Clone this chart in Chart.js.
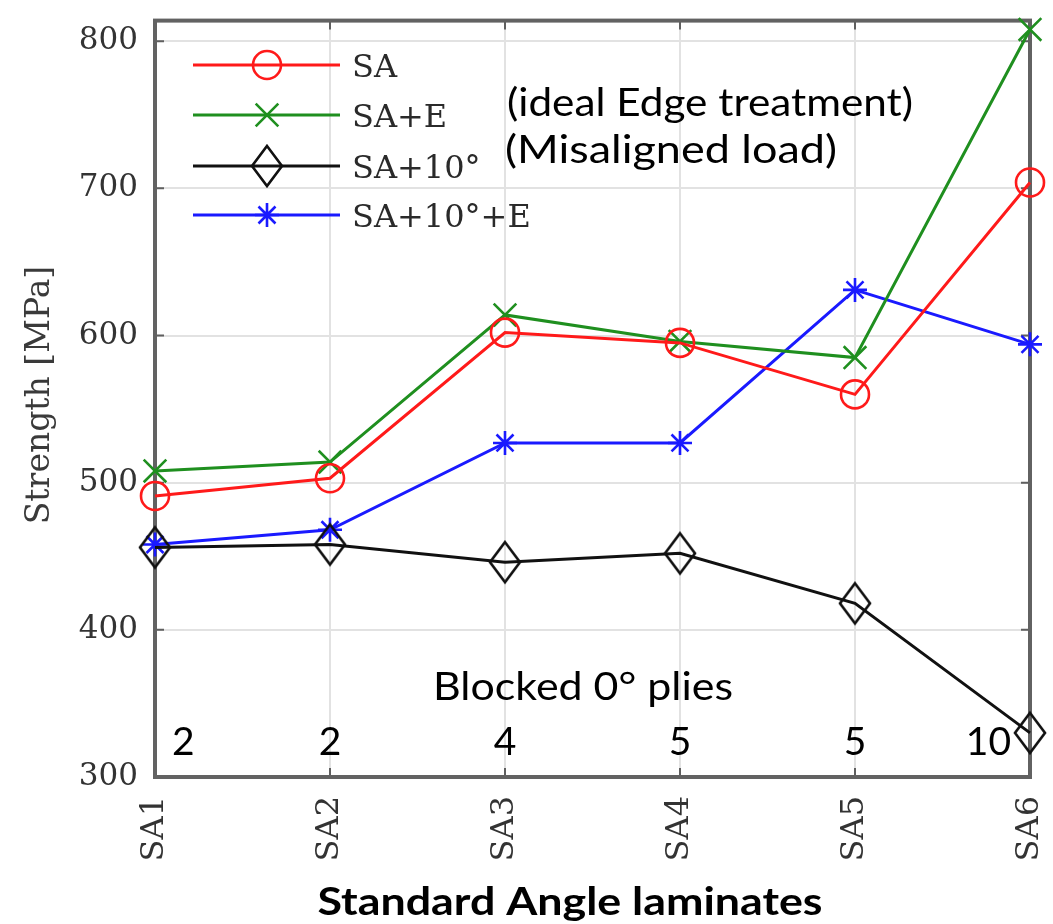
<!DOCTYPE html>
<html><head><meta charset="utf-8">
<script src="https://cdn.jsdelivr.net/npm/chart.js@4.4.1/dist/chart.umd.min.js"></script>
<style>html,body{margin:0;padding:0;background:#fff;} #wrap{width:1053px;height:924px;position:relative;}</style>
</head><body><div id="wrap"><canvas id="c" width="1053" height="924"></canvas></div>
<script>
const categories = ['SA1','SA2','SA3','SA4','SA5','SA6'];
const saValues = [491, 503, 602, 595, 560, 704];
const saEValues = [508, 514, 614, 596, 585, 808];
const sa10Values = [456, 458, 446, 452, 418, 330];
const sa10EValues = [458, 468, 527, 527, 631, 594];
const blockedPlies = ['2','2','4','5','5','10'];
const seriesNames = ['SA','SA+E','SA+10°','SA+10°+E'];
const seriesNotes = ['', '(ideal Edge treatment)', '(Misaligned load)', ''];
const yTicks = [300,400,500,600,700,800];
const xTitle = 'Standard Angle laminates';
const yTitle = 'Strength [MPa]';
const pliesTitle = 'Blocked 0° plies';

const RED = '#ff1a1a', GREEN = '#1f8f1f', BLACK = '#111111', BLUE = '#1a1aff';
const SERIF = '"DejaVu Serif", serif';
const SANS = 'Lato, "Open Sans", sans-serif';
const LW = 3;
const MW = 2.6;

function makeDiamond(w, h, color, lw) {
  const c = document.createElement('canvas');
  c.width = Math.ceil(w + lw * 2 + 2); c.height = Math.ceil(h + lw * 2 + 2);
  const g = c.getContext('2d');
  const cx = c.width / 2, cy = c.height / 2;
  g.strokeStyle = color; g.lineWidth = lw; g.lineJoin = 'miter';
  g.beginPath();
  g.moveTo(cx, cy - h / 2); g.lineTo(cx + w / 2, cy); g.lineTo(cx, cy + h / 2); g.lineTo(cx - w / 2, cy);
  g.closePath(); g.stroke();
  return c;
}
const diamondImg = makeDiamond(30, 40, BLACK, MW);

const styles = [
  {color: RED, pointStyle: 'circle', radius: 14},
  {color: GREEN, pointStyle: 'crossRot', radius: 16},
  {color: BLACK, pointStyle: diamondImg, radius: 18},
  {color: BLUE, pointStyle: 'star', radius: 12}
];
const seriesData = [saValues, saEValues, sa10Values, sa10EValues];

const datasets = seriesData.map((d, i) => ({
  label: seriesNames[i],
  data: d,
  borderColor: styles[i].color,
  backgroundColor: 'rgba(0,0,0,0)',
  borderWidth: LW,
  pointStyle: styles[i].pointStyle,
  pointRadius: styles[i].radius,
  pointHoverRadius: styles[i].radius,
  pointBorderWidth: MW,
  pointBorderColor: styles[i].color,
  pointBackgroundColor: 'rgba(0,0,0,0)',
  tension: 0,
  clip: false
}));

function fitText(ctx, text, x, y, width, font, align) {
  ctx.save();
  ctx.font = font;
  const w = ctx.measureText(text).width;
  const s = width / w;
  ctx.translate(x, y);
  ctx.scale(s, 1);
  ctx.textAlign = align;
  ctx.textBaseline = 'alphabetic';
  ctx.fillText(text, 0, 0);
  ctx.restore();
}

function drawMarker(ctx, st, x, y) {
  if (typeof st.pointStyle !== 'string') {
    ctx.drawImage(st.pointStyle, x - st.pointStyle.width / 2, y - st.pointStyle.height / 2);
    return;
  }
  ctx.save();
  ctx.strokeStyle = st.color; ctx.lineWidth = MW;
  ctx.beginPath();
  const r = st.radius;
  if (st.pointStyle === 'circle') {
    ctx.arc(x, y, r, 0, Math.PI * 2);
  } else if (st.pointStyle === 'crossRot') {
    const o = r * Math.SQRT1_2;
    ctx.moveTo(x - o, y - o); ctx.lineTo(x + o, y + o);
    ctx.moveTo(x - o, y + o); ctx.lineTo(x + o, y - o);
  } else if (st.pointStyle === 'star') {
    const o = r * Math.SQRT1_2;
    ctx.moveTo(x - r, y); ctx.lineTo(x + r, y);
    ctx.moveTo(x, y - r); ctx.lineTo(x, y + r);
    ctx.moveTo(x - o, y - o); ctx.lineTo(x + o, y + o);
    ctx.moveTo(x - o, y + o); ctx.lineTo(x + o, y - o);
  }
  ctx.stroke();
  ctx.restore();
}

const framePlugin = {
  id: 'frame',
  beforeDatasetsDraw(chart) {
    const {ctx, chartArea: a, scales} = chart;
    ctx.save();
    ctx.strokeStyle = '#5f5f5f';
    ctx.lineWidth = 2;
    ctx.beginPath();
    scales.x.ticks.forEach((t, i) => {
      const px = scales.x.getPixelForTick(i);
      ctx.moveTo(px, a.bottom); ctx.lineTo(px, a.bottom - 9);
      ctx.moveTo(px, a.top); ctx.lineTo(px, a.top + 9);
    });
    scales.y.ticks.forEach((t, i) => {
      const py = scales.y.getPixelForTick(i);
      ctx.moveTo(a.left, py); ctx.lineTo(a.left + 9, py);
      ctx.moveTo(a.right, py); ctx.lineTo(a.right - 9, py);
    });
    ctx.stroke();
    ctx.lineWidth = 4;
    ctx.strokeStyle = '#626262';
    ctx.strokeRect(a.left, a.top, a.right - a.left, a.bottom - a.top);
    ctx.restore();
  },
  afterDatasetsDraw(chart) {
    const {ctx, scales} = chart;
    ctx.save();
    // legend
    const rows = [65, 115, 166, 215];
    styles.forEach((st, i) => {
      const y = rows[i];
      ctx.strokeStyle = st.color; ctx.lineWidth = LW;
      ctx.beginPath(); ctx.moveTo(193, y); ctx.lineTo(340, y); ctx.stroke();
      drawMarker(ctx, st, 267, y);
      ctx.fillStyle = '#2a2a2a';
      ctx.font = '32px ' + SERIF;
      ctx.textAlign = 'left'; ctx.textBaseline = 'alphabetic';
      ctx.fillText(seriesNames[i], 352, y + 12);
    });
    // notes
    ctx.fillStyle = '#000';
    fitText(ctx, seriesNotes[1], 507, 116, 406, '39px ' + SANS, 'left');
    fitText(ctx, seriesNotes[2], 505, 163, 332, '39px ' + SANS, 'left');
    // blocked plies
    fitText(ctx, pliesTitle, 583, 700, 300, '39px ' + SANS, 'center');
    ctx.font = '39px ' + SANS;
    ctx.textBaseline = 'alphabetic';
    const n = blockedPlies.length;
    blockedPlies.forEach((s, i) => {
      const px = scales.x.getPixelForValue(i);
      if (i === 0) { ctx.textAlign = 'left'; ctx.fillText(s, px + 17, 755); }
      else if (i === n - 1) { ctx.textAlign = 'right'; ctx.fillText(s, px - 19, 755); }
      else { ctx.textAlign = 'center'; ctx.fillText(s, px, 755); }
    });
    // x title
    fitText(ctx, xTitle, 570, 915, 505, 'bold 39px ' + SANS, 'center');
    // y title
    ctx.save();
    ctx.translate(49, 395);
    ctx.rotate(-Math.PI / 2);
    ctx.fillStyle = '#3a3a3a';
    ctx.font = '33px ' + SERIF;
    ctx.textAlign = 'center'; ctx.textBaseline = 'alphabetic';
    ctx.fillText(yTitle, 0, 0);
    ctx.restore();
    ctx.restore();
  }
};

new Chart(document.getElementById('c'), {
  type: 'line',
  data: {labels: categories, datasets},
  options: {
    responsive: false,
    animation: false,
    devicePixelRatio: 1,
    layout: {padding: {left: 0, top: 12, right: 23, bottom: 0}},
    plugins: {legend: {display: false}, tooltip: {enabled: false}},
    scales: {
      x: {
        type: 'category',
        offset: false,
        grid: {color: '#e2e2e2', lineWidth: 2, drawTicks: false},
        border: {display: false},
        ticks: {
          minRotation: 90, maxRotation: 90, autoSkip: false, padding: 19,
          font: {family: SERIF, size: 32}, color: '#333333'
        },
        afterFit(s) { s.height = 147; s.paddingLeft = 0; s.paddingRight = 0; s.paddingTop = 0; s.paddingBottom = 0; }
      },
      y: {
        min: 300, max: 814,
        grid: {color: '#e2e2e2', lineWidth: 2, drawTicks: false},
        border: {display: false},
        ticks: {padding: 17, font: {family: SERIF, size: 31}, color: '#333333'},
        afterBuildTicks(s) { s.ticks = yTicks.map(v => ({value: v})); },
        afterFit(s) { s.width = 155; s.paddingLeft = 0; s.paddingRight = 0; s.paddingTop = 0; s.paddingBottom = 0; }
      }
    }
  },
  plugins: [framePlugin]
});
</script>
</body></html>
